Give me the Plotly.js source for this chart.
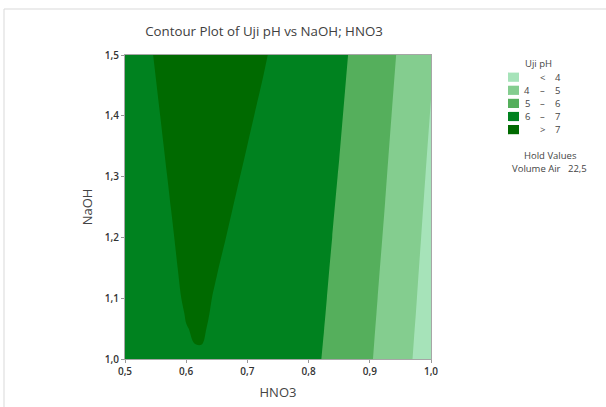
<!DOCTYPE html>
<html>
<head>
<meta charset="utf-8">
<script src="https://cdn.plot.ly/plotly-3.0.1.min.js"></script>
<style>html,body{margin:0;padding:0;background:#fff;}#chart{width:606px;height:407px;}</style>
</head>
<body>
<div id="chart"></div>
<script>
// HNO3 grid (x) and NaOH grid (y)
const hno3 = [0.5,0.525,0.55,0.575,0.6,0.625,0.65,0.675,0.7,0.725,0.75,0.775,0.8,0.825,0.85,0.875,0.9,0.925,0.95,0.975,1.0];
const naoh = [1.0,1.025,1.05,1.075,1.1,1.15,1.2,1.3,1.4,1.5];

// Uji pH, one row per NaOH level (Volume Air held at 22,5)
const ph_naoh_1000 = [6.500,6.600,6.700,6.800,6.900,6.960,6.860,6.760,6.660,6.640,6.575,6.401,6.196,5.961,5.696,5.400,5.074,4.717,4.331,3.913,3.466];
const ph_naoh_1025 = [6.544,6.644,6.744,6.844,6.995,7.004,6.904,6.804,6.704,6.670,6.593,6.420,6.217,5.983,5.719,5.425,5.100,4.745,4.359,3.943,3.497];
const ph_naoh_1050 = [6.584,6.684,6.784,6.884,6.994,7.032,6.932,6.832,6.732,6.690,6.611,6.439,6.237,6.005,5.742,5.449,5.126,4.772,4.388,3.973,3.528];
const ph_naoh_1075 = [6.612,6.712,6.812,6.912,7.012,7.052,6.952,6.852,6.752,6.710,6.629,6.459,6.259,6.028,5.767,5.475,5.153,4.801,4.418,4.005,3.561];
const ph_naoh_1100 = [6.632,6.732,6.832,6.932,7.032,7.068,6.968,6.868,6.768,6.730,6.647,6.478,6.279,6.050,5.790,5.500,5.179,4.828,4.447,4.035,3.593];
const ph_naoh_1150 = [6.656,6.756,6.856,6.956,7.056,7.112,7.012,6.912,6.812,6.765,6.683,6.517,6.320,6.093,5.836,5.548,5.231,4.882,4.503,4.094,3.655];
const ph_naoh_1200 = [6.678,6.778,6.878,6.978,7.078,7.160,7.060,6.960,6.860,6.805,6.719,6.555,6.362,6.138,5.883,5.598,5.283,4.938,4.562,4.155,3.719];
const ph_naoh_1300 = [6.724,6.824,6.924,7.024,7.124,7.224,7.152,7.052,6.952,6.884,6.788,6.630,6.442,6.223,5.974,5.695,5.385,5.045,4.674,4.273,3.842];
const ph_naoh_1400 = [6.770,6.870,6.970,7.070,7.170,7.270,7.244,7.144,7.044,6.944,6.858,6.705,6.522,6.309,6.066,5.792,5.487,5.153,4.787,4.392,3.966];
const ph_naoh_1500 = [6.816,6.916,7.016,7.116,7.216,7.316,7.336,7.236,7.136,7.036,6.926,6.779,6.602,6.394,6.156,5.887,5.588,5.259,4.900,4.510,4.089];

// Legend classes
const classLeft  = ["", "4", "5", "6", ""];
const classMid   = ["<", "–", "–", "–", ">"];
const classRight = ["4", "5", "6", "7", "7"];
const classColors = ["#a6e3b9", "#84cd8f", "#55af5c", "#00821f", "#006a00"];

const zRows = [ph_naoh_1000, ph_naoh_1025, ph_naoh_1050, ph_naoh_1075, ph_naoh_1100,
               ph_naoh_1150, ph_naoh_1200, ph_naoh_1300, ph_naoh_1400, ph_naoh_1500];

// stepwise colour scale: bands are sampled at 0, .25, .5, .75, 1
const steps = [0, 0.125, 0.375, 0.625, 0.875, 1];
const colorscale = [];
for (let i = 0; i < 5; i++) {
  colorscale.push([steps[i], classColors[i]]);
  colorscale.push([steps[i+1], classColors[i]]);
}

const trace = {
  type: 'contour',
  x: hno3, y: naoh, z: zRows,
  autocontour: false,
  contours: {start: 4, end: 7, size: 1, coloring: 'fill', showlines: false},
  line: {width: 0, smoothing: 1},
  colorscale: colorscale,
  showscale: false,
  hoverinfo: 'skip'
};

// plot area in pixels: x 125..431, y 55..359
const L = 125, R = 431, T = 55, B = 359;
const px = v => (v - L) / (R - L);
const py = v => (B - v) / (B - T);

const shapes = [
  {type:'line', xref:'paper', yref:'paper', x0:px(4), x1:px(606), y0:py(9), y1:py(9), line:{color:'#d9d9d9', width:1}},
  {type:'line', xref:'paper', yref:'paper', x0:px(4), x1:px(4), y0:py(9), y1:py(407), line:{color:'#d9d9d9', width:1}}
];
const annotations = [];
const txtFont = {family:'Open Sans, Noto Sans, sans-serif', size:9.5, color:'#444'};
const rowY = [77.2, 90.3, 103.4, 116.5, 129.6];
for (let i = 0; i < 5; i++) {
  shapes.push({type:'rect', xref:'paper', yref:'paper', x0:px(508), x1:px(519), y0:py(rowY[i]-4.6), y1:py(rowY[i]+4.6), fillcolor:classColors[i], line:{width:0}});
  if (classLeft[i]) annotations.push({xref:'paper', yref:'paper', x:px(532), y:py(rowY[i]), xanchor:'right', yanchor:'middle', text:classLeft[i], showarrow:false, font:txtFont});
  annotations.push({xref:'paper', yref:'paper', x:px(542), y:py(rowY[i]), xanchor:'center', yanchor:'middle', text:classMid[i], showarrow:false, font:txtFont});
  annotations.push({xref:'paper', yref:'paper', x:px(553), y:py(rowY[i]), xanchor:'left', yanchor:'middle', text:classRight[i], showarrow:false, font:txtFont});
}
annotations.push({xref:'paper', yref:'paper', x:px(538), y:py(64), xanchor:'center', yanchor:'middle', text:'Uji pH', showarrow:false, font:txtFont});
annotations.push({xref:'paper', yref:'paper', x:px(550), y:py(155.5), xanchor:'center', yanchor:'middle', text:'Hold Values', showarrow:false, font:txtFont});
annotations.push({xref:'paper', yref:'paper', x:px(510), y:py(168.5), xanchor:'left', yanchor:'middle', text:'Volume Air', showarrow:false, font:txtFont});
annotations.push({xref:'paper', yref:'paper', x:px(589), y:py(168.5), xanchor:'right', yanchor:'middle', text:'22,5', showarrow:false, font:txtFont});

const tickFont = {family:'Open Sans, Noto Sans, sans-serif', size:10, color:'#333', weight:600};
const axisTitleFont = {family:'Open Sans, Noto Sans, sans-serif', size:13, color:'#444'};

const layout = {
  width: 606, height: 407,
  margin: {l: L, r: 606 - R, t: T, b: 407 - B, pad: 0},
  paper_bgcolor: '#fff', plot_bgcolor: '#fff',
  separators: ',.',
  title: {text: 'Contour Plot of Uji pH vs NaOH; HNO3', x: 264/606, xanchor: 'center', y: 1 - 31/407, yanchor: 'middle',
          font: {family:'Open Sans, Noto Sans, sans-serif', size: 13.3, color: '#404040'}},
  xaxis: {range: [0.5, 1.0], tickvals: [0.5,0.6,0.7,0.8,0.9,1.0], ticktext: ['0,5','0,6','0,7','0,8','0,9','1,0'],
          ticks: 'outside', ticklen: 3, tickcolor: '#999', showgrid: false, zeroline: false,
          showline: true, mirror: true, linecolor: '#a6a6a6', linewidth: 1, tickfont: tickFont,
          title: {text: 'HNO3', font: axisTitleFont, standoff: 10}},
  yaxis: {range: [1.0, 1.5], tickvals: [1.0,1.1,1.2,1.3,1.4,1.5], ticktext: ['1,0','1,1','1,2','1,3','1,4','1,5'],
          ticks: 'outside', ticklen: 3, tickcolor: '#999', showgrid: false, zeroline: false,
          showline: true, mirror: true, linecolor: '#a6a6a6', linewidth: 1, tickfont: tickFont,
          title: {text: 'NaOH', font: axisTitleFont, standoff: 9}},
  shapes: shapes,
  annotations: annotations,
  showlegend: false
};

Plotly.newPlot('chart', [trace], layout, {displayModeBar: false, staticPlot: true});
</script>
</body>
</html>
